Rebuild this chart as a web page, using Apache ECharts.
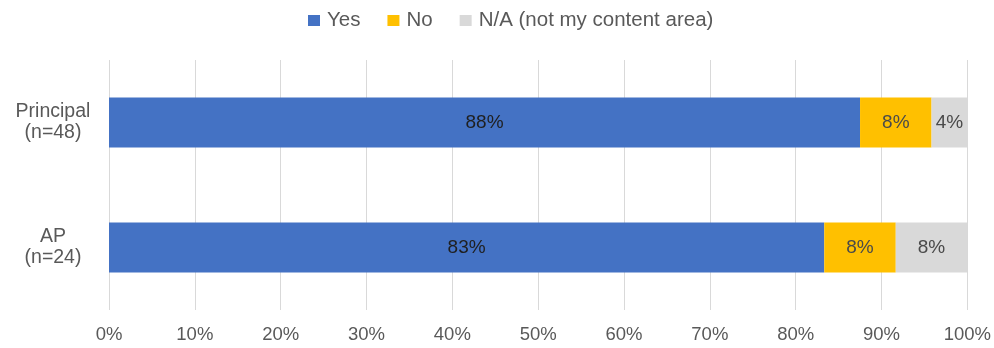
<!DOCTYPE html>
<html><head><meta charset="utf-8">
<script src="https://cdn.jsdelivr.net/npm/echarts@6/dist/echarts.min.js"></script>
<style>html,body{margin:0;padding:0;background:#fff}#c{width:994px;height:348px}</style>
</head><body><div id="c"></div>
<script>
const categories = ['Principal\n(n=48)', 'AP\n(n=24)'];
const yesValues = [87.5, 83.33];
const noValues = [8.33, 8.33];
const naValues = [4.17, 8.33];
const seriesNames = ['Yes', 'No', 'N/A (not my content area)'];
const tickLabels = ['0%','10%','20%','30%','40%','50%','60%','70%','80%','90%','100%'];

const font = 'Liberation Sans, Arial, sans-serif';
const colors = ['#4472C4', '#FFC000', '#D9D9D9'];
const labelColors = ['#1f1f1f', '#4a4a4a', '#4a4a4a'];
const data = [yesValues, noValues, naValues];

const chart = echarts.init(document.getElementById('c'));
chart.setOption({
  animation: false,
  textStyle: {fontFamily: font},
  legend: {
    top: 5, left: 303,
    itemWidth: 12, itemHeight: 11, itemGap: 27,
    icon: 'rect',
    textStyle: {fontSize: 20.5, color: '#595959', fontFamily: font, padding: [0, 0, 0, 2]},
    data: seriesNames
  },
  grid: {left: 109, right: 25, top: 60, bottom: 38, containLabel: false},
  xAxis: {
    type: 'value', min: 0, max: 100, interval: 10,
    axisLine: {show: false}, axisTick: {show: false},
    splitLine: {lineStyle: {color: '#D9D9D9', width: 1}},
    axisLabel: {formatter: v => tickLabels[Math.round(v / 10)], fontSize: 18.5, color: '#595959', margin: 15, fontFamily: font}
  },
  yAxis: {
    type: 'category', inverse: true, data: categories,
    axisLine: {show: false}, axisTick: {show: false},
    axisLabel: {fontSize: 19.5, color: '#595959', align: 'center', margin: 56, lineHeight: 21, fontFamily: font}
  },
  series: seriesNames.map((n, i) => ({
    name: n, type: 'bar', stack: 'total', barWidth: '40%',
    data: data[i],
    itemStyle: {color: colors[i]},
    label: {show: true, position: 'inside', fontSize: 19, color: labelColors[i], fontFamily: font,
      formatter: p => Math.round(p.value) + '%'}
  }))
});
</script></body></html>
